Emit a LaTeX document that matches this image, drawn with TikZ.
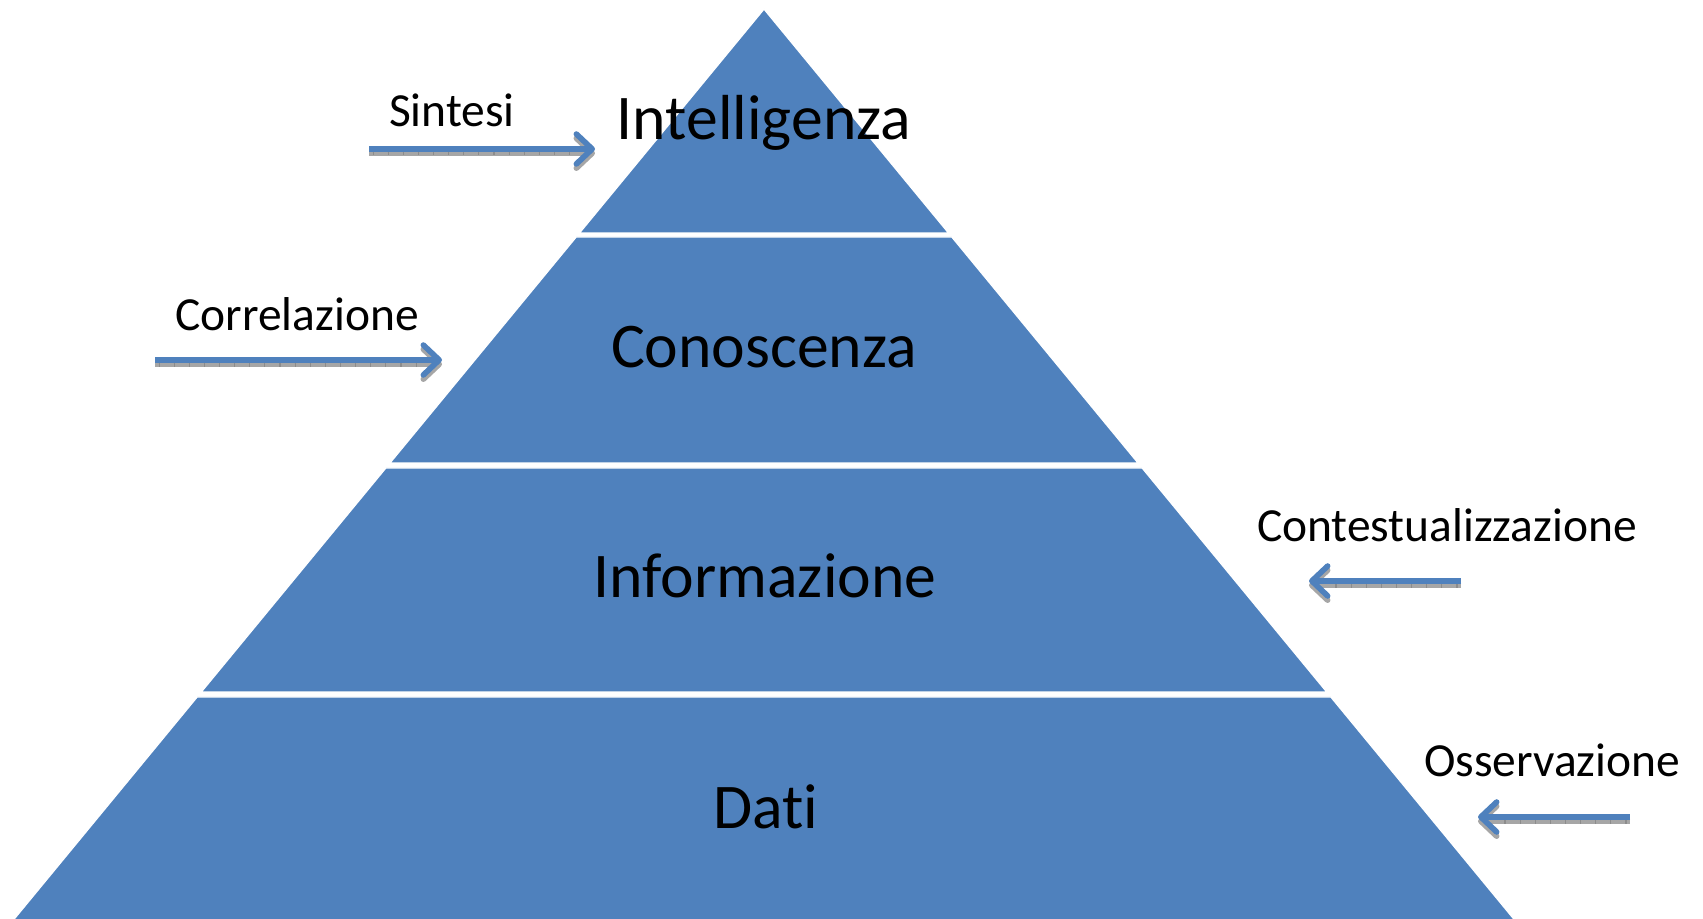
\documentclass[tikz,border=0pt]{standalone}
\usepackage{fontspec}
\setmainfont{Carlito}[Ligatures=NoCommon]
\definecolor{layerColor}{HTML}{4F81BD}
\definecolor{shadowColor}{HTML}{A6A6A6}
\usetikzlibrary{arrows.meta}
\tikzset{
    layerFill/.style = {fill=layerColor, draw=white, line width=0.4pt},
    layerLabel/.style = {anchor=base, inner sep=0pt, text=black, font=\fontsize{18.1}{21}\selectfont},
    sideLabel/.style = {anchor=base, inner sep=0pt, text=black, font=\fontsize{13.5}{16}\selectfont},
    flowPath/.style = {-{Straight Barb[length=4.5pt, width=8.5pt, round]}, color=layerColor, line width=1.6pt, draw},
    shadowPath/.style = {flowPath, color=shadowColor},
    tickPath/.style = {draw, color=black!45, line width=1.1pt, dash pattern=on 0.3pt off 4pt, shorten >=6pt, shorten <=1pt}
}

\begin{document}
\begin{tikzpicture}[x=0.01cm, y=-0.01cm]
    \useasboundingbox (0,0) rectangle (1703,919);
    \clip (0,0) rectangle (1703,919);
    % pyramid layers
    \foreach \ya/\yb in {9/233, 237/463, 468/692, 697/940}
        \path[layerFill] ({764-0.824*(\ya-9)},\ya) -- ({764+0.824*(\ya-9)},\ya) -- ({764+0.824*(\yb-9)},\yb) -- ({764-0.824*(\yb-9)},\yb) -- cycle;
    \node(intelligenza)[layerLabel] at (764,140) {Intelligenza};
    \node(conoscenza)[layerLabel] at (764,368) {Conoscenza};
    \node(informazione)[layerLabel] at (765,598) {Informazione};
    \node(dati)[layerLabel] at (766,828) {Dati};
    % side labels
    \node(sintesi)[sideLabel] at (452,127) {Sintesi};
    \node(correlazione)[sideLabel] at (297,331) {Correlazione};
    \node(contestualizzazione)[sideLabel] at (1447,542) {Contestualizzazione};
    \node(osservazione)[sideLabel] at (1552,777) {Osservazione};
    \coordinate(sintesiStart) at (369,149);
    \coordinate(sintesiEnd) at (595,149);
    \coordinate(correlazioneStart) at (155,360);
    \coordinate(correlazioneEnd) at (442,360);
    \coordinate(contestoStart) at (1461,581);
    \coordinate(contestoEnd) at (1309,581);
    \coordinate(osservazioneStart) at (1630,817);
    \coordinate(osservazioneEnd) at (1478,817);
    % arrows
    \foreach \a in {sintesi, correlazione, contesto, osservazione} {
        \path[shadowPath] ([yshift=-1.2pt]\a Start) to ([yshift=-1.2pt]\a End);
        \path[tickPath] ([yshift=-1.3pt]\a Start) to ([yshift=-1.3pt]\a End);
        \path[flowPath] (\a Start) to (\a End);
    }
\end{tikzpicture}
\end{document}
